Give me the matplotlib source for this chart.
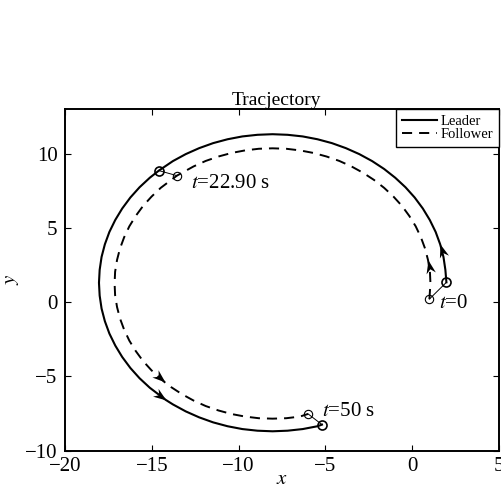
import numpy as np
import matplotlib
matplotlib.use('Agg')
import matplotlib.pyplot as plt
from matplotlib.path import Path
from matplotlib.markers import MarkerStyle
from matplotlib.transforms import Affine2D

# Font giống Times
plt.rcParams['font.family'] = ['Liberation Serif', 'DejaVu Serif']
plt.rcParams['mathtext.fontset'] = 'stix'

# Quỹ đạo leader
leader_x = [1.97, 1.91, 1.80, 1.61, 1.35, 1.01, 0.61, 0.14, -0.39, -0.98,
            -1.62, -2.31, -3.05, -3.82, -4.63, -5.46, -6.31, -7.18, -8.05, -8.92,
            -9.79, -10.64, -11.47, -12.28, -13.05, -13.79, -14.60, -15.12, -15.71, -16.24,
            -16.71, -17.11, -17.45, -17.71, -17.90, -18.01, -18.05, -18.01, -17.90, -17.71,
            -17.45, -17.11, -16.71, -16.24, -15.71, -15.12, -14.21, -13.79, -13.05, -12.28,
            -11.47, -10.64, -9.79, -8.92, -8.05, -7.18, -6.31, -5.46, -5.20]
leader_y = [1.33, 2.17, 3.04, 3.89, 4.72, 5.53, 6.30, 7.04, 7.73, 8.37,
            8.96, 9.49, 9.96, 10.36, 10.70, 10.96, 11.15, 11.26, 11.30, 11.26,
            11.15, 10.96, 10.70, 10.36, 9.96, 9.49, 8.85, 8.37, 7.73, 7.04,
            6.30, 5.53, 4.72, 3.89, 3.04, 2.17, 1.30, 0.43, -0.44, -1.29,
            -2.12, -2.93, -3.70, -4.44, -5.13, -5.77, -6.58, -6.89, -7.36, -7.76,
            -8.10, -8.36, -8.55, -8.66, -8.70, -8.66, -8.55, -8.36, -8.25]

# Quỹ đạo follower
follower_x = [0.99, 1.05, 1.02, 0.91, 0.74, 0.50, 0.20, -0.17, -0.59, -1.08,
              -1.62, -2.20, -2.83, -3.50, -4.20, -4.94, -5.70, -6.47, -7.26, -8.05,
              -8.84, -9.63, -10.40, -11.16, -11.90, -12.60, -13.56, -14.49, -15.02, -15.51,
              -15.93, -16.30, -16.60, -16.84, -17.01, -17.12, -17.15, -17.12, -17.01, -16.84,
              -16.60, -16.30, -15.93, -15.51, -15.02, -14.26, -13.90, -13.27, -12.60, -11.90,
              -11.16, -10.40, -9.63, -8.84, -8.05, -7.26, -6.47, -6.00]
follower_y = [0.20, 1.25, 2.04, 2.83, 3.60, 4.36, 5.10, 5.80, 6.47, 7.10,
              7.69, 8.22, 8.70, 9.13, 9.50, 9.80, 10.04, 10.21, 10.32, 10.35,
              10.32, 10.21, 10.04, 9.80, 9.50, 9.13, 8.51, 7.69, 7.10, 6.47,
              5.80, 5.10, 4.36, 3.60, 2.83, 2.04, 1.25, 0.46, -0.33, -1.10,
              -1.86, -2.60, -3.30, -3.97, -4.60, -5.40, -5.72, -6.20, -6.63, -7.00,
              -7.30, -7.54, -7.71, -7.82, -7.85, -7.82, -7.71, -7.53]

# Các thời điểm đánh dấu: chỉ số điểm trong danh sách
snap_labels = ['$t$=0', '$t$=22.90 s', '$t$=50 s']
leader_snap_idx = [0, 26, 58]
follower_snap_idx = [0, 26, 57]

# Vị trí mũi tên (chỉ số điểm)
leader_arrow_idx = [3, 46]
follower_arrow_idx = [3, 45]


def arrow_marker(ax, xs, ys, i):
    # hướng tiếp tuyến trong hệ toạ độ màn hình
    p0 = ax.transData.transform((xs[i - 1], ys[i - 1]))
    p1 = ax.transData.transform((xs[i + 1], ys[i + 1]))
    ang = np.degrees(np.arctan2(p1[1] - p0[1], p1[0] - p0[0]))
    head = Path([(0, 0), (-1, 0.36), (-0.68, 0), (-1, -0.36), (0, 0)],
                [Path.MOVETO, Path.LINETO, Path.LINETO, Path.LINETO, Path.CLOSEPOLY])
    return MarkerStyle(head, transform=Affine2D().rotate_deg(ang))


fig = plt.figure(figsize=(5.01, 4.93), dpi=100)
ax = fig.add_axes([0.130, 0.086, 0.866, 0.693])
ax.set_xlim(-20, 5)
ax.set_ylim(-10, 13)

ax.plot(leader_x, leader_y, '-', color='k', lw=1.5, label='Leader')
ax.plot(follower_x, follower_y, color='k', lw=1.4, dashes=(5.2, 3.6), label='Follower')

# Mũi tên
for xs, ys, idxs in [(leader_x, leader_y, leader_arrow_idx),
                     (follower_x, follower_y, follower_arrow_idx)]:
    for i in idxs:
        ax.plot(xs[i], ys[i], marker=arrow_marker(ax, xs, ys, i), ms=19,
                color='k', mew=0, zorder=5)

# Đánh dấu vị trí tại các thời điểm
for k in range(len(snap_labels)):
    li = leader_snap_idx[k]
    fi = follower_snap_idx[k]
    ax.plot([leader_x[li], follower_x[fi]], [leader_y[li], follower_y[fi]],
            '-', color='k', lw=0.7, zorder=4)
    ax.plot(leader_x[li], leader_y[li], 'o', ms=6.5, mfc='none', mec='k', mew=1.2, zorder=6)
    ax.plot(follower_x[fi], follower_y[fi], 'o', ms=6, mfc='none', mec='k', mew=0.8, zorder=6)

ax.annotate(snap_labels[0], (leader_x[0], leader_y[0]), xytext=(-5, -15),
            textcoords='offset points', fontsize=15, va='center', ha='left')
ax.annotate(snap_labels[1], (follower_x[26], follower_y[26]), xytext=(10.5, -5.5),
            textcoords='offset points', fontsize=15, va='center', ha='left')
ax.annotate(snap_labels[2], (follower_x[57], follower_y[57]), xytext=(10, 1.5),
            textcoords='offset points', fontsize=15, va='center', ha='left')

ax.set_xticks([-20, -15, -10, -5, 0, 5])
ax.set_yticks([-10, -5, 0, 5, 10])
ax.tick_params(direction='in', top=True, right=True, length=4, labelsize=15, width=0.8)
ax.tick_params(axis='x', pad=4.5)
ax.tick_params(axis='y', pad=5.5)
for s in ax.spines.values():
    s.set_linewidth(1.4)

ax.set_title('Tracjectory', fontsize=14, pad=3, x=0.487)
ax.set_xlabel('$x$', fontsize=15, labelpad=-4)
ax.set_ylabel('$y$', fontsize=15, labelpad=3)

leg = ax.legend(loc='upper right', fontsize=10.5, borderaxespad=0, handlelength=2.4,
                handletextpad=0.25, borderpad=0.4, labelspacing=0.0, fancybox=False,
                framealpha=1)
leg.get_frame().set_edgecolor('k')
leg.get_frame().set_linewidth(1.0)

fig.savefig('out.png', dpi=100)
plt.close(fig)
